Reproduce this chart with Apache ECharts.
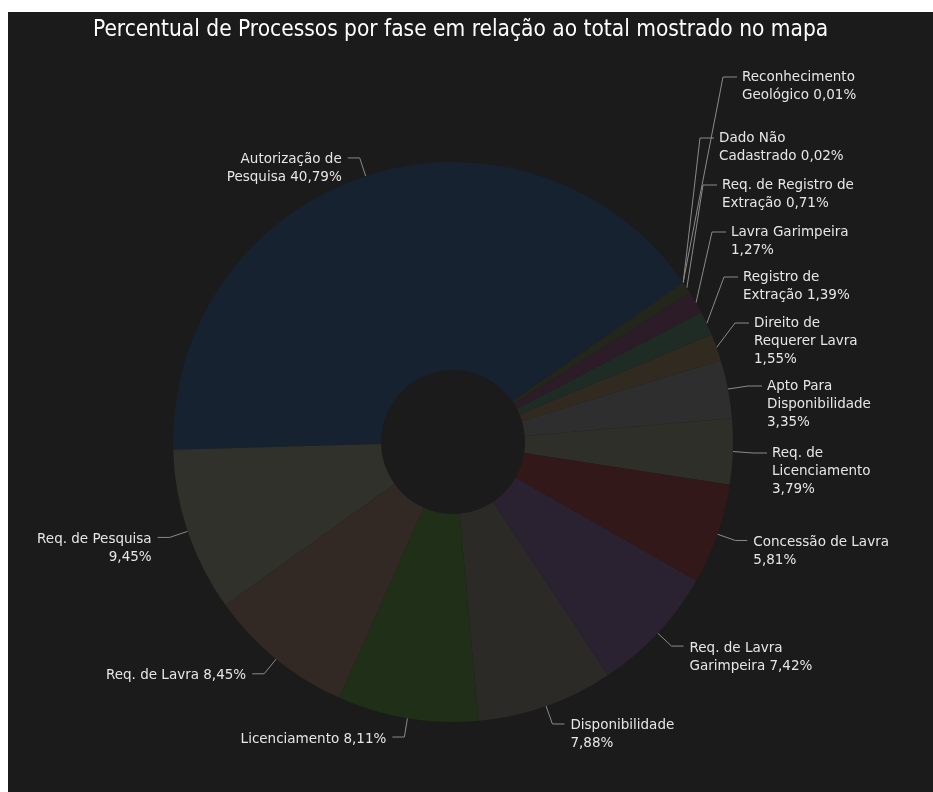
<!DOCTYPE html>
<html>
<head>
<meta charset="utf-8">
<script src="https://cdn.jsdelivr.net/npm/echarts@6/dist/echarts.min.js"></script>
<style>
  html, body { margin: 0; padding: 0; background: #ffffff; }
  #main {
    position: absolute;
    left: 8px;
    top: 12px;
    width: 925px;
    height: 780px;
    background: #1b1b1b;
  }
</style>
</head>
<body>
<div id="main"></div>
<script>
// fases (ordem horária a partir da esquerda), nome com quebra de linha
const fases = [
  "Autorização de\nPesquisa",
  "Reconhecimento\nGeológico",
  "Dado Não\nCadastrado",
  "Req. de Registro de\nExtração",
  "Lavra Garimpeira",
  "Registro de\nExtração",
  "Direito de\nRequerer Lavra",
  "Apto Para\nDisponibilidade",
  "Req. de\nLicenciamento",
  "Concessão de Lavra",
  "Req. de Lavra\nGarimpeira",
  "Disponibilidade",
  "Licenciamento",
  "Req. de Lavra",
  "Req. de Pesquisa",
];
// separador entre nome e percentual no rótulo
const separadores = [" ", " ", " ", " ", "\n", " ", "\n", "\n", "\n", "\n", " ", "\n", " ", " ", "\n"];
const percentuais = [40.79, 0.01, 0.02, 0.71, 1.27, 1.39, 1.55, 3.35, 3.79, 5.81, 7.42, 7.88, 8.11, 8.45, 9.45];
const cores = [
  "#172231", "#3a2a30", "#4a2448", "#22261b", "#2c1c27", "#1f2b25", "#312a20",
  "#2e2e2e", "#2e2f29", "#331819", "#2a2230", "#2c2a26", "#1f2f18", "#322824", "#2f312a",
];

const LINE_H = 18;

// rótulos das fatias pequenas: [x do texto, y da 1a linha], empilhados acima
const rotulosFixos = {
  1: [734, 65],
  2: [711, 126],
  3: [714, 173],
  4: [723, 220],
  5: [735, 265],
  6: [746, 311],
  7: [759, 374],
  8: [764, 441],
};

let chartDom = document.getElementById("main");
let myChart = echarts.init(chartDom);
let option;

function textoRotulo(i) {
  return fases[i] + separadores[i] + percentuais[i].toFixed(2).replace(".", ",") + "%";
}

const data = fases.map(function (nome, i) {
  return {
    name: nome,
    value: percentuais[i],
    itemStyle: { color: cores[i] },
  };
});

option = {
  backgroundColor: "#1b1b1b",
  title: {
    text: "Percentual de Processos por fase em relação ao total mostrado no mapa",
    left: 80,
    top: 2,
    textStyle: {
      color: "#ffffff",
      fontFamily: "DejaVu Sans Condensed",
      fontSize: 22.5,
      fontWeight: "normal",
    },
  },
  series: [
    {
      type: "pie",
      center: [445, 430],
      radius: [72, 280],
      startAngle: 181.6,
      clockwise: true,
      avoidLabelOverlap: false,
      animation: false,
      data: data,
      label: {
        color: "#e6e6e6",
        fontFamily: "DejaVu Sans",
        fontSize: 13.5,
        lineHeight: LINE_H,
        distanceToLabelLine: 6,
        formatter: function (p) {
          return textoRotulo(p.dataIndex);
        },
      },
      labelLine: {
        length: 19,
        length2: 12,
        lineStyle: { color: "#8a8a8a", width: 1 },
      },
      labelLayout: function (params) {
        let i = params.dataIndex;
        let pts = params.labelLinePoints;
        let linhas = textoRotulo(i).split("\n").length;
        let pos = rotulosFixos[i];
        if (!pos) {
          // primeira linha do texto logo abaixo da linha guia
          return { dy: ((linhas - 1) * LINE_H) / 2 + 2, labelLinePoints: pts };
        }
        let tx = pos[0];
        let ty = pos[1];
        return {
          x: tx,
          y: ty - LINE_H / 2,
          align: "left",
          verticalAlign: "top",
          labelLinePoints: [pts[0], [tx - 19, ty], [tx - 5, ty]],
        };
      },
    },
  ],
};

option && myChart.setOption(option);
</script>
</body>
</html>
